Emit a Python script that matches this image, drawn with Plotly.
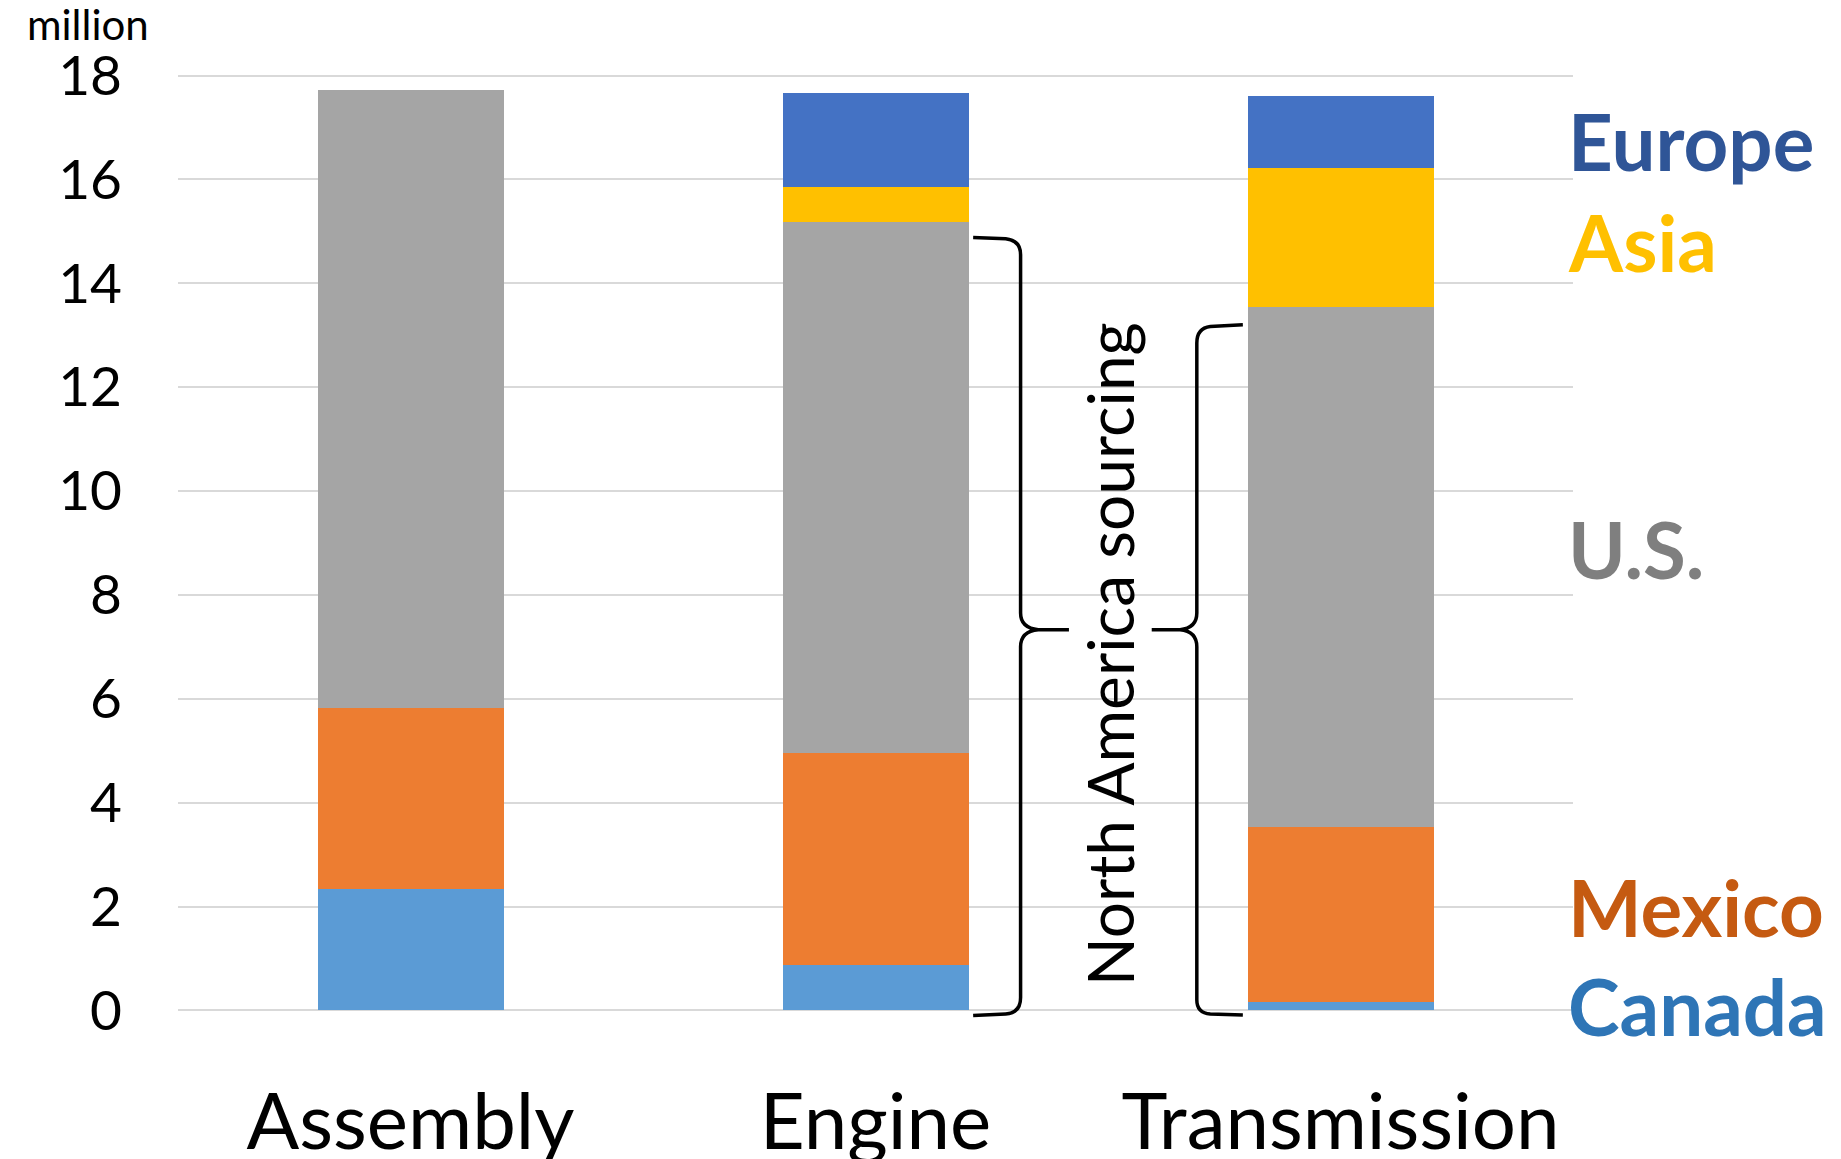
import plotly.graph_objects as go

categories = ["Assembly", "Engine", "Transmission"]
x_pos = [0, 1, 2]
canada = [2.33, 0.88, 0.16]
mexico = [3.49, 4.08, 3.37]
us = [11.91, 10.23, 10.01]
asia = [0.0, 0.66, 2.69]
europe = [0.0, 1.81, 1.38]
y_ticks = [0, 2, 4, 6, 8, 10, 12, 14, 16, 18]

series = [
    ("Canada", canada, "#5B9BD5"),
    ("Mexico", mexico, "#ED7D31"),
    ("U.S.", us, "#A5A5A5"),
    ("Asia", asia, "#FFC000"),
    ("Europe", europe, "#4472C4"),
]

fig = go.Figure()
for name, vals, col in series:
    fig.add_trace(go.Bar(x=x_pos, y=vals, name=name, marker=dict(color=col, line=dict(width=0)),
                         width=0.4, showlegend=False))

FONT = "Lato, 'Open Sans', sans-serif"
L, T = 170, 52
PW, PH = 1395, 966
fig.update_layout(
    barmode="stack",
    width=1841, height=1159,
    margin=dict(l=L, r=1841 - L - PW, t=T, b=1159 - T - PH),
    plot_bgcolor="white", paper_bgcolor="white",
    font=dict(family=FONT, color="black"),
    xaxis=dict(range=[-0.5, 2.5], tickvals=x_pos, ticktext=categories, showgrid=False,
               zeroline=False, showline=False, tickfont=dict(size=78), ticks="",
               ticklabelstandoff=44, automargin=False),
    yaxis=dict(range=[-0.3, 18.3], tickvals=y_ticks, showgrid=True, gridcolor="#D9D9D9",
               gridwidth=1.5, zeroline=False, showline=False, tickfont=dict(size=55),
               ticks="", ticklabelstandoff=55, automargin=False),
)

# Braces
eng = ("M 1.21,14.88 L 1.28,14.86 Q 1.312,14.83 1.312,14.55 L 1.312,7.65 "
       "Q 1.312,7.36 1.35,7.33 L 1.416,7.33 M 1.35,7.33 Q 1.312,7.30 1.312,7.0 "
       "L 1.312,0.25 Q 1.312,-0.05 1.28,-0.07 L 1.21,-0.1")
tra = ("M 1.79,13.2 L 1.72,13.17 Q 1.691,13.14 1.691,12.85 L 1.691,7.65 "
       "Q 1.691,7.36 1.655,7.33 L 1.594,7.33 M 1.655,7.33 Q 1.691,7.30 1.691,7.0 "
       "L 1.691,0.2 Q 1.691,-0.05 1.72,-0.07 L 1.79,-0.09")
for p in (eng, tra):
    fig.add_shape(type="path", path=p, xref="x", yref="y", line=dict(color="black", width=3.5))

fig.add_annotation(x=1.502, y=6.86, xref="x", yref="y", text="North America sourcing",
                   textangle=-90, showarrow=False, font=dict(size=64, color="black"))

labels = [("Europe", 16.75, "#2F5597"), ("Asia", 14.8, "#FFC000"), ("U.S.", 8.89, "#7F7F7F"),
          ("Mexico", 1.99, "#C55A11"), ("Canada", 0.08, "#2E75B6")]
for t, yv, c in labels:
    fig.add_annotation(x=2.485, y=yv, xref="x", yref="y", text="<b>" + t + "</b>", xanchor="left",
                       yanchor="middle", showarrow=False, font=dict(size=78, color=c))

fig.add_annotation(x=(80 - L) / PW, y=(T + PH - 16) / PH, xref="paper", yref="paper",
                   text="million", showarrow=False, xanchor="center", yanchor="middle",
                   font=dict(size=42, color="black"))

fig.write_html("out.html")
